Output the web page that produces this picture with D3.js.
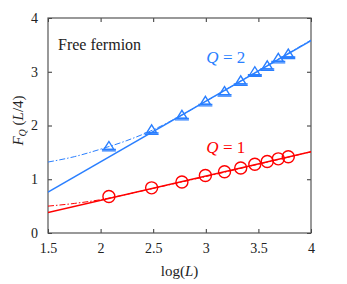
<!DOCTYPE html>
<html>
<head>
<meta charset="utf-8">
<script src="https://cdn.jsdelivr.net/npm/d3@7"></script>
<style>
  body { margin: 0; background: #fff; }
</style>
</head>
<body>
<svg id="chart" width="347" height="284"></svg>
<script>
// data
const logL = [2.079, 2.485, 2.773, 2.996, 3.178, 3.332, 3.466, 3.584, 3.689, 3.784];
const q2Values = [1.61, 1.92, 2.19, 2.45, 2.63, 2.83, 3.00, 3.11, 3.25, 3.33];
const q1Values = [0.68, 0.84, 0.95, 1.07, 1.14, 1.21, 1.28, 1.33, 1.38, 1.42];

// fit lines (end points) and dash-dot curves (sampled)
const fitX = [1.5, 4];
const q2Fit = [0.76, 3.58];
const q1Fit = [0.38, 1.51];
const curveX = [1.5, 1.75, 2.0, 2.25, 2.5, 2.75, 3.0, 3.5, 4.0];
const q2Curve = [1.32, 1.42, 1.56, 1.72, 1.92, 2.17, 2.45, 3.02, 3.59];
const q1Curve = [0.50, 0.55, 0.62, 0.72, 0.83, 0.94, 1.05, 1.28, 1.51];

const xTicks = [1.5, 2, 2.5, 3, 3.5, 4];
const yTicks = [0, 1, 2, 3, 4];

const blue = '#2a7fff';
const red = '#ff0000';
const serif = 'Liberation Serif, DejaVu Serif, serif';

const margin = {top: 18, right: 36, bottom: 51, left: 48};
const width = 347 - margin.left - margin.right;
const height = 284 - margin.top - margin.bottom;

let svg = d3.select('#chart')
  .append('g')
    .attr('transform', 'translate(' + margin.left + ',' + margin.top + ')')
    .style('font-family', serif);

let x = d3.scaleLinear().domain([1.5, 4]).range([0, width]);
let y = d3.scaleLinear().domain([0, 4]).range([height, 0]);

svg.append('defs').append('clipPath').attr('id', 'clip')
  .append('rect').attr('width', width).attr('height', height);

// axes with inward ticks
function styleAxis(g) {
  g.attr('font-family', null).style('font-family', serif);
  g.select('.domain').remove();
  g.selectAll('.tick line').attr('stroke', '#333');
  g.selectAll('.tick text')
    .attr('font-size', 14)
    .attr('fill', '#222');
}

svg.append('g')
  .attr('transform', 'translate(0,' + height + ')')
  .call(d3.axisBottom(x).tickValues(xTicks).tickSizeInner(-4).tickSizeOuter(0).tickPadding(10)
    .tickFormat(d3.format('')))
  .call(styleAxis);

svg.append('g')
  .call(d3.axisTop(x).tickValues(xTicks).tickSizeInner(-4).tickSizeOuter(0).tickFormat(''))
  .call(styleAxis);

svg.append('g')
  .call(d3.axisLeft(y).tickValues(yTicks).tickSizeInner(-4).tickSizeOuter(0).tickPadding(10)
    .tickFormat(d3.format('d')))
  .call(styleAxis);

svg.append('g')
  .attr('transform', 'translate(' + width + ',0)')
  .call(d3.axisRight(y).tickValues(yTicks).tickSizeInner(-4).tickSizeOuter(0).tickFormat(''))
  .call(styleAxis);

svg.append('rect')
  .attr('width', width).attr('height', height)
  .attr('fill', 'none').attr('stroke', '#555').attr('stroke-width', 1.2);

let plot = svg.append('g').attr('clip-path', 'url(#clip)');

let line = d3.line().x(d => x(d[0])).y(d => y(d[1]));
let smooth = d3.line().x(d => x(d[0])).y(d => y(d[1])).curve(d3.curveMonotoneX);

// dash-dot curves
[[q2Curve, blue], [q1Curve, red]].forEach(([vals, c]) => {
  plot.append('path')
    .datum(curveX.map((v, i) => [v, vals[i]]))
    .attr('fill', 'none').attr('stroke', c).attr('stroke-width', 1)
    .attr('stroke-dasharray', '6,2,1.5,2')
    .attr('d', smooth);
});

// linear fits
[[q2Fit, blue], [q1Fit, red]].forEach(([vals, c]) => {
  plot.append('path')
    .datum(fitX.map((v, i) => [v, vals[i]]))
    .attr('fill', 'none').attr('stroke', c).attr('stroke-width', 1.5)
    .attr('d', line);
});

// Q=2 triangles
let tri = svg.append('g').selectAll('g')
  .data(logL.map((v, i) => [v, q2Values[i]]))
  .join('g')
    .attr('transform', d => 'translate(' + x(d[0]) + ',' + y(d[1]) + ')');
tri.append('path')
  .attr('d', 'M-5,3 L0,-5 L5,3 Z')
  .attr('fill', 'none').attr('stroke', blue).attr('stroke-width', 1.4);
tri.append('path')
  .attr('d', 'M-7,3 H7 M-7,4.5 H7')
  .attr('stroke', blue).attr('stroke-width', 1.3);

// Q=1 circles
svg.append('g').selectAll('circle')
  .data(logL.map((v, i) => [v, q1Values[i]]))
  .join('circle')
    .attr('cx', d => x(d[0]))
    .attr('cy', d => y(d[1]))
    .attr('r', 6)
    .attr('fill', 'none').attr('stroke', red).attr('stroke-width', 1.4);

// labels
svg.append('text')
  .attr('x', 10).attr('y', 32)
  .attr('font-size', 16).attr('fill', '#222')
  .text('Free fermion');

function qLabel(txt, c, ty) {
  let t = svg.append('text')
    .attr('x', x(3.19)).attr('y', ty)
    .attr('font-size', 17).attr('fill', c)
    .attr('text-anchor', 'middle');
  t.append('tspan').attr('font-style', 'italic').text('Q');
  t.append('tspan').text(' = ' + txt);
}
qLabel('2', blue, 45);
qLabel('1', red, 135);

svg.append('text')
  .attr('x', width / 2).attr('y', height + 43)
  .attr('text-anchor', 'middle')
  .attr('font-size', 15).attr('fill', '#222')
  .html('log(<tspan font-style="italic">L</tspan>)');

svg.append('text')
  .attr('transform', 'translate(-25,' + (height / 2 - 5) + ') rotate(-90)')
  .attr('text-anchor', 'middle')
  .attr('font-size', 15).attr('fill', '#222')
  .html('<tspan font-style="italic">F</tspan><tspan font-style="italic" font-size="10" dy="3">Q</tspan><tspan dy="-3"> (</tspan><tspan font-style="italic">L</tspan>/4)');
</script>
</body>
</html>
